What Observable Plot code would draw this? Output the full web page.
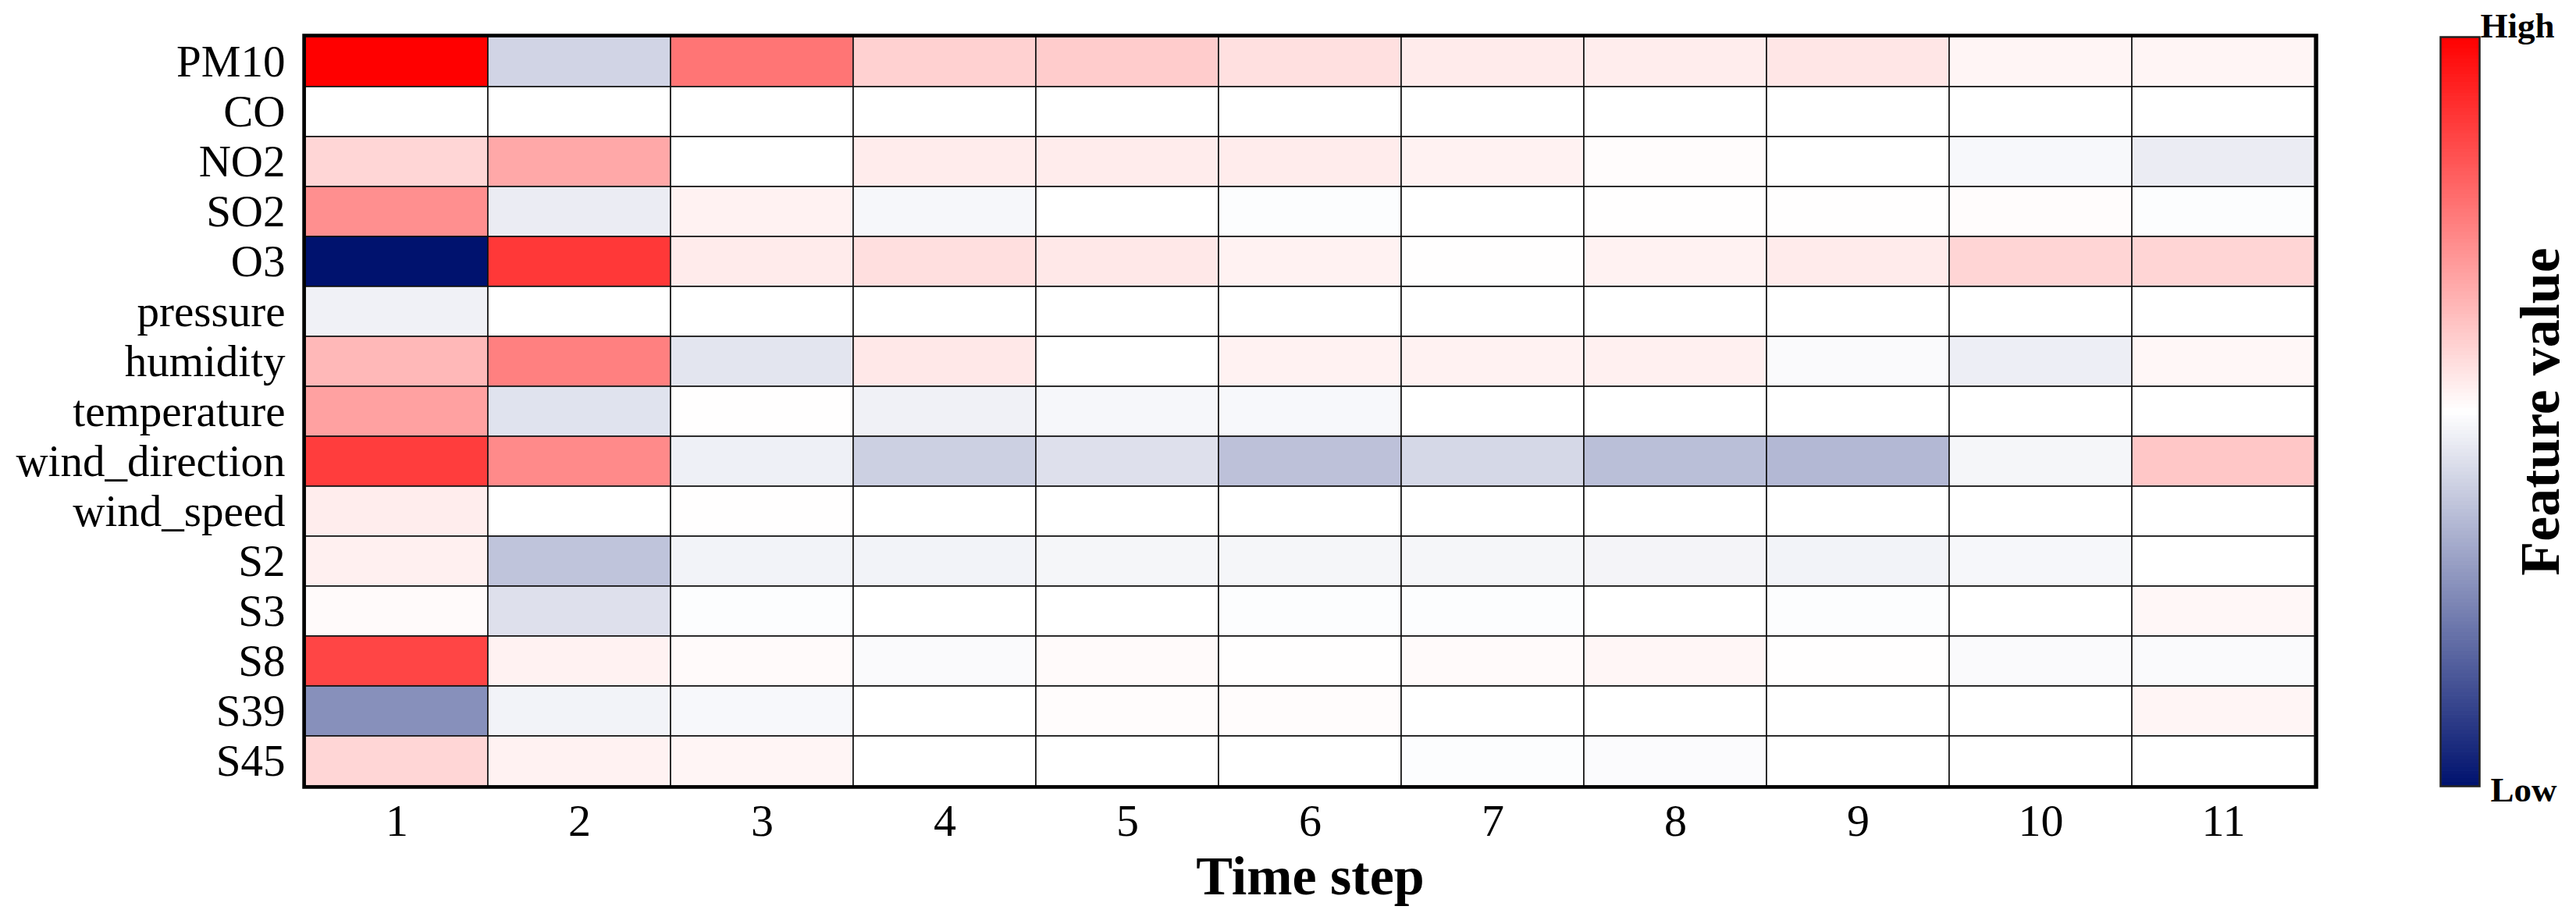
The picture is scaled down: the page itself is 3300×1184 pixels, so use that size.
<!DOCTYPE html>
<html>
<head>
<meta charset="utf-8">
<script src="https://cdn.jsdelivr.net/npm/d3@7"></script>
<script src="https://cdn.jsdelivr.net/npm/@observablehq/plot@0.6"></script>
<style>
  html, body { margin: 0; padding: 0; background: #fff; overflow: hidden; }
  #wrap { position: relative; width: 3300px; height: 1184px; }
  #wrap svg { position: absolute; left: 0; top: 0; max-width: none; }
</style>
</head>
<body>
<div id="wrap"></div>
<script>
// ---- data ----
const features = ["PM10", "CO", "NO2", "SO2", "O3", "pressure", "humidity", "temperature",
                  "wind_direction", "wind_speed", "S2", "S3", "S8", "S39", "S45"];
const steps = [1, 2, 3, 4, 5, 6, 7, 8, 9, 10, 11];

const PM10          = [1.0, -0.18, 0.54, 0.18, 0.20, 0.12, 0.08, 0.07, 0.10, 0.04, 0.04];
const CO            = [0.0, 0.0, 0.0, 0.0, 0.0, 0.0, 0.0, 0.0, 0.0, 0.0, 0.0];
const NO2           = [0.16, 0.34, 0.0, 0.075, 0.075, 0.075, 0.05, 0.01, 0.0, -0.03, -0.08];
const SO2           = [0.44, -0.08, 0.05, -0.035, 0.0, -0.01, 0.0, 0.005, 0.005, 0.01, -0.01];
const O3            = [-1.0, 0.78, 0.08, 0.125, 0.09, 0.05, 0.005, 0.05, 0.08, 0.165, 0.165];
const pressure      = [-0.06, 0.0, 0.0, 0.0, 0.0, 0.0, 0.0, 0.0, 0.0, 0.0, 0.0];
const humidity      = [0.28, 0.50, -0.11, 0.09, 0.0, 0.05, 0.05, 0.06, -0.02, -0.07, 0.03];
const temperature   = [0.37, -0.12, 0.005, -0.06, -0.035, -0.03, 0.0, 0.0, 0.0, 0.0, 0.0];
const wind_direction= [0.76, 0.46, -0.065, -0.20, -0.13, -0.26, -0.165, -0.27, -0.30, -0.04, 0.22];
const wind_speed    = [0.07, 0.0, 0.005, 0.0, 0.0, 0.0, 0.0, 0.0, 0.0, 0.0, 0.0];
const S2            = [0.06, -0.25, -0.05, -0.05, -0.04, -0.04, -0.04, -0.045, -0.05, -0.035, 0.0];
const S3            = [0.02, -0.13, -0.01, 0.0, 0.0, -0.01, -0.01, 0.0, -0.01, 0.0, 0.03];
const S8            = [0.73, 0.05, 0.02, -0.02, 0.02, 0.005, 0.02, 0.035, 0.005, -0.02, -0.02];
const S39           = [-0.47, -0.05, -0.03, 0.0, 0.01, 0.01, 0.0, 0.0, 0.0, 0.0, 0.04];
const S45           = [0.16, 0.05, 0.04, 0.0, 0.0, 0.0, -0.01, -0.015, 0.0, 0.0, 0.0];

const xTitle = "Time step";
const barTitle = "Feature value";
const barEnds = ["High", "Low"];

// ---- build table ----
const rows = [PM10, CO, NO2, SO2, O3, pressure, humidity, temperature,
              wind_direction, wind_speed, S2, S3, S8, S39, S45];
const data = [];
features.forEach((f, i) => steps.forEach((s, j) => data.push({feature: f, step: s, value: rows[i][j]})));

const colorOpts = {
  type: "linear",
  domain: [-1, 0, 1],
  range: ["#00126e", "#ffffff", "#ff0000"],
  interpolate: "rgb"
};
const font = "'Liberation Serif', 'Times New Roman', Times, serif";

const main = Plot.plot({
  width: 3300, height: 1184,
  marginLeft: 389, marginRight: 333, marginTop: 45, marginBottom: 176,
  style: {fontFamily: font, color: "black", background: "transparent", overflow: "visible"},
  x: {type: "band", domain: steps, padding: 0},
  y: {type: "band", domain: features, padding: 0},
  color: colorOpts,
  marks: [
    Plot.cell(data, {x: "step", y: "feature", fill: "value", stroke: "#111", strokeWidth: 1.6, inset: 0}),
    Plot.axisX({tickSize: 0, tickPadding: 21, fontSize: 58, label: null}),
    Plot.axisY({tickSize: 0, tickPadding: 24, fontSize: 57, label: null}),
    Plot.frame({stroke: "black", strokeWidth: 4.5}),
    Plot.text([xTitle], {text: d => d, frameAnchor: "bottom", dy: 115, lineAnchor: "middle",
                         fontSize: 70, fontWeight: "bold", fill: "black"})
  ]
});

// colour bar
const stops = d3.range(0, 200).map(i => -1 + i * 0.01);
const bar = Plot.plot({
  width: 3300, height: 1184,
  marginLeft: 3126, marginRight: 124, marginTop: 47, marginBottom: 177,
  style: {fontFamily: font, color: "black", background: "transparent", overflow: "visible"},
  x: {domain: [0, 1], axis: null},
  y: {domain: [-1, 1], axis: null},
  color: colorOpts,
  marks: [
    Plot.rect(stops, {x1: 0, x2: 1, y1: d => d, y2: d => Math.min(1, d + 0.0115), fill: d => d + 0.005, inset: 0}),
    Plot.frame({stroke: "#222", strokeWidth: 2.5}),
    Plot.text([barEnds[0]], {text: d => d, frameAnchor: "top-right", textAnchor: "start", lineAnchor: "bottom",
                             dx: 1, fontSize: 45, fontWeight: "bold", fill: "black"}),
    Plot.text([barEnds[1]], {text: d => d, frameAnchor: "bottom-right", textAnchor: "start", lineAnchor: "bottom",
                             dx: 14, dy: 19, fontSize: 45, fontWeight: "bold", fill: "black"}),
    Plot.text([barTitle], {text: d => d, frameAnchor: "right", rotate: -90, lineAnchor: "bottom", textAnchor: "middle",
                           dx: 101, fontSize: 72, fontWeight: "bold", fill: "black"})
  ]
});

const wrap = document.getElementById("wrap");
wrap.appendChild(main);
wrap.appendChild(bar);
</script>
</body>
</html>
